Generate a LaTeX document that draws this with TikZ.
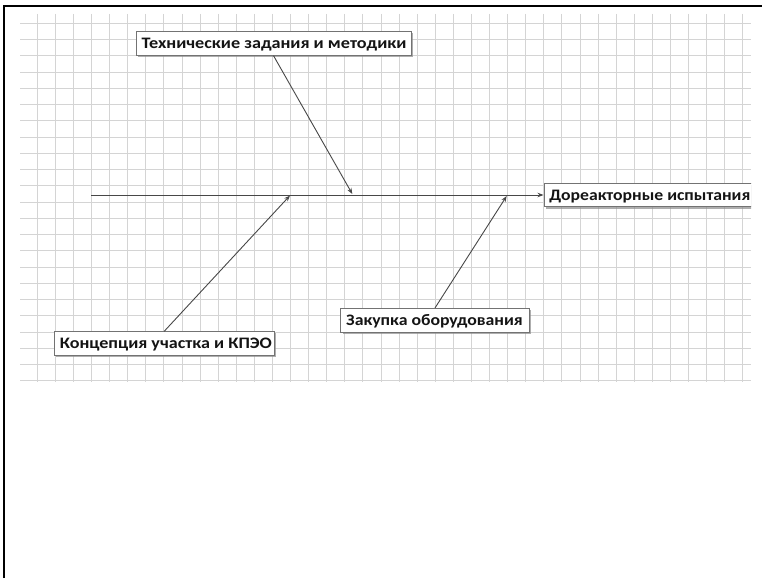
\documentclass[tikz,border=0pt]{standalone}
\usepackage{fontspec}
\usepackage{graphicx}
\setmainfont{Carlito}
\usetikzlibrary{shadows,arrows.meta}
\newcommand{\boxtext}[3]{\makebox[#1][l]{\hspace{5.5pt}\resizebox{#2}{\height}{#3}}}
\tikzset{
  lbl/.style={draw=black!55, line width=0.7pt, fill=white, inner sep=0pt,
    font=\fontsize{16}{18}\selectfont\bfseries, text=black!92,
    text height=10.2pt, text depth=0pt,
    drop shadow={shadow xshift=1.8pt, shadow yshift=-1.8pt, fill=black!45, opacity=0.7}},
  gridline/.style={draw=black!17, line width=1pt},
  conn/.style={draw=black!72, line width=0.9pt, -{Stealth[length=6pt,width=4.5pt]}},
  frameline/.style={draw=black, line width=1.6pt}
}
\begin{document}
\begin{tikzpicture}[x=1pt,y=-1pt]
\useasboundingbox (0,0) rectangle (762,578);
% grid
\foreach \i in {0,...,22} {
  \draw[gridline] (20,{23.3+16.25*\i}) -- (750.7,{23.3+16.25*\i});
}
\foreach \j in {0,...,39} {
  \draw[gridline] ({37.3+18.09*\j},14) -- ({37.3+18.09*\j},381.7);
}
% frame
\draw[frameline] (4,578) -- (4,6) -- (762,6);
% boxes
\node[lbl, minimum width=275pt, minimum height=23.6pt] (tz) at (273.5,43.5)
  {\boxtext{275pt}{265pt}{Технические задания и методики}};
\node[lbl, minimum width=219.7pt, minimum height=23.3pt] (kc) at (164.2,343.3)
  {\boxtext{219.7pt}{212pt}{Концепция участка и КПЭО}};
\node[lbl, minimum width=188.6pt, minimum height=24pt] (zo) at (435,320.3)
  {\boxtext{188.6pt}{176.5pt}{Закупка оборудования}};
\begin{scope}
\clip (530,170) rectangle (751,215);
\node[lbl, anchor=west, minimum width=225pt, minimum height=23.4pt] (dr) at (543.5,195)
  {\boxtext{225pt}{201pt}{Дореакторные испытания}};
\end{scope}
% spine
\coordinate (s0) at (91,195);
\coordinate (p1) at (290,195.5);
\coordinate (p2) at (352.3,194);
\coordinate (p3) at (506.7,196);
\draw[conn] (s0) -- (dr.west);
\draw[conn] (tz.south) -- (p2);
\draw[conn] (kc.north) -- (p1);
\draw[conn] (zo.north) -- (p3);
\end{tikzpicture}
\end{document}
